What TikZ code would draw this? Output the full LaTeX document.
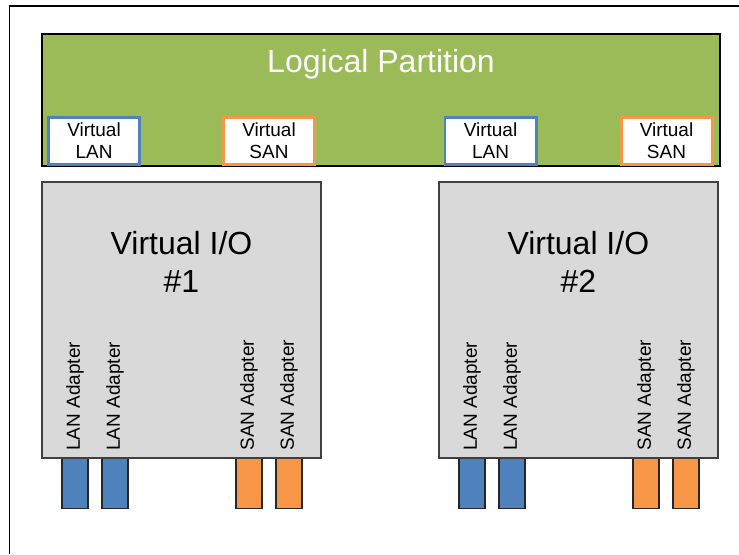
\documentclass[tikz,border=0pt]{standalone}
\usepackage{fontspec}
\setmainfont{Liberation Sans}
\usetikzlibrary{positioning}
\definecolor{lpargreen}{HTML}{9BBB59}
\definecolor{lanblue}{HTML}{4F81BD}
\definecolor{sanorange}{HTML}{F79646}
\definecolor{viosgray}{HTML}{D9D9D9}
\definecolor{edgegray}{HTML}{404040}

\begin{document}
\begin{tikzpicture}[
  vbox/.style={draw,line width=1.7pt,fill=white,minimum width=1.82cm,minimum height=0.94cm,
    inner sep=0pt,align=center,font=\fontsize{10.8}{12.4}\selectfont},
  big/.style={font=\fontsize{18.2}{21.9}\selectfont,align=center},
  adapter/.style={draw=black!85,line width=0.8pt},
  adlabel/.style={rotate=90,anchor=west,inner sep=0pt,font=\fontsize{10.8}{12}\selectfont}]
  \useasboundingbox (0,0) rectangle (14.78,11.08);
  % outer frame
  \draw[line width=0.85pt] (0.19,0) -- (0.19,10.96) -- (14.78,10.96);
  % logical partition
  \draw[line width=1.1pt,fill=lpargreen] (0.84,7.76) rectangle (14.40,10.40);
  \node[big,text=white,anchor=base] (lpar) at (7.62,9.626) {Logical Partition};
  \node[vbox,draw=lanblue] (vlan1) at (1.88,8.26) {Virtual\\LAN};
  \node[vbox,draw=sanorange] (vsan1) at (5.38,8.26) {Virtual\\SAN};
  \node[vbox,draw=lanblue] (vlan2) at (9.81,8.26) {Virtual\\LAN};
  \node[vbox,draw=sanorange] (vsan2) at (13.33,8.26) {Virtual\\SAN};
  % adapters
  \draw[adapter,fill=lanblue] (1.24,0.906) rectangle (1.76,1.92);
  \draw[adapter,fill=lanblue] (2.04,0.906) rectangle (2.56,1.92);
  \draw[adapter,fill=sanorange] (4.72,0.906) rectangle (5.24,1.92);
  \draw[adapter,fill=sanorange] (5.52,0.906) rectangle (6.04,1.92);
  \draw[adapter,fill=lanblue] (9.18,0.906) rectangle (9.70,1.92);
  \draw[adapter,fill=lanblue] (9.98,0.906) rectangle (10.50,1.92);
  \draw[adapter,fill=sanorange] (12.66,0.906) rectangle (13.18,1.92);
  \draw[adapter,fill=sanorange] (13.46,0.906) rectangle (13.98,1.92);
  % virtual I/O servers
  \draw[line width=1.1pt,draw=edgegray,fill=viosgray] (0.84,1.926) rectangle (6.42,7.44);
  \draw[line width=1.1pt,draw=edgegray,fill=viosgray] (8.78,1.926) rectangle (14.354,7.44);
  \node[big] (vio1) at (3.63,5.84) {Virtual I/O\\\#1};
  \node[big] (vio2) at (11.567,5.84) {Virtual I/O\\\#2};
  \node[adlabel] (lanad11) at (1.50,2.06) {LAN Adapter};
  \node[adlabel] (lanad12) at (2.30,2.06) {LAN Adapter};
  \node[adlabel] (sanad11) at (4.98,2.06) {SAN Adapter};
  \node[adlabel] (sanad12) at (5.78,2.06) {SAN Adapter};
  \node[adlabel] (lanad21) at (9.44,2.06) {LAN Adapter};
  \node[adlabel] (lanad22) at (10.24,2.06) {LAN Adapter};
  \node[adlabel] (sanad21) at (12.92,2.06) {SAN Adapter};
  \node[adlabel] (sanad22) at (13.72,2.06) {SAN Adapter};
\end{tikzpicture}
\end{document}
